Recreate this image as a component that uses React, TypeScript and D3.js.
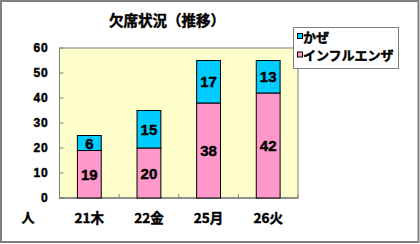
import React from "react";
import * as d3 from "d3";

const categories = ["21木", "22金", "25月", "26火"];
const kaze = [6, 15, 17, 13];
const influenza = [19, 20, 38, 42];
const yTicks = [0, 10, 20, 30, 40, 50, 60];
const seriesNames = ["かぜ", "インフルエンザ"];
const title = "欠席状況（推移）";
const unitLabel = "人";

const W = 420;
const H = 244;
const plot = { left: 59.5, right: 298, top: 48, bottom: 198 };
const CYAN = "#00CCFF";
const PINK = "#FF99CC";
const jp = "'Noto Sans CJK JP', 'Liberation Sans', sans-serif";
const num = "'Liberation Sans', Arial, sans-serif";
const heavy = { stroke: "#000", strokeWidth: 0.45 };

export default function App() {
  const x = d3
    .scaleBand<string>()
    .domain(categories)
    .range([plot.left, plot.right])
    .paddingInner(0.6)
    .paddingOuter(0.3);
  const y = d3.scaleLinear().domain([0, 60]).range([plot.bottom, plot.top]);
  const step = (plot.right - plot.left) / categories.length;
  const boundaries = d3.range(categories.length + 1).map((i) => plot.left + i * step);

  return (
    <svg
      width={W}
      height={H}
      style={{ position: "absolute", left: 0, top: 0 }}
      xmlns="http://www.w3.org/2000/svg"
    >
      <rect x={0} y={0} width={W} height={H} fill="#fff" />
      <rect x={1} y={1} width={417.5} height={241} fill="none" stroke="#808080" strokeWidth={2} />
      <text
        x={167}
        y={26}
        textAnchor="middle"
        fontFamily={jp}
        fontWeight="bold"
        fontSize={14.5}
        fill="#000"
        {...heavy}
      >
        {title}
      </text>
      {/* plot area */}
      <rect
        x={plot.left}
        y={plot.top}
        width={plot.right - plot.left}
        height={plot.bottom - plot.top}
        fill="#FFFFCC"
        stroke="#808080"
        strokeWidth={1}
      />
      {/* y ticks */}
      {yTicks.map((t) => (
        <g key={t}>
          <line x1={plot.left} x2={plot.left + 4} y1={y(t)} y2={y(t)} stroke="#808080" />
          <text
            x={48.5}
            y={y(t)}
            textAnchor="end"
            dominantBaseline="central"
            fontFamily={num}
            fontWeight="bold"
            fontSize={12}
            letterSpacing={0.8}
            fill="#000"
            {...heavy}
          >
            {t}
          </text>
        </g>
      ))}
      {/* x axis line & ticks */}
      <line x1={plot.left} x2={plot.right} y1={plot.bottom} y2={plot.bottom} stroke="#606060" />
      {boundaries.map((bx, i) => (
        <line key={i} x1={bx} x2={bx} y1={plot.bottom} y2={plot.bottom - 4} stroke="#808080" />
      ))}
      {/* bars */}
      {categories.map((c, i) => {
        const bx = x(c)!;
        const bw = x.bandwidth();
        const a = influenza[i];
        const b = kaze[i];
        return (
          <g key={c}>
            <rect
              x={bx}
              y={y(a)}
              width={bw}
              height={y(0) - y(a)}
              fill={PINK}
              stroke="#000"
              strokeWidth={1}
            />
            <rect
              x={bx}
              y={y(a + b)}
              width={bw}
              height={y(a) - y(a + b)}
              fill={CYAN}
              stroke="#000"
              strokeWidth={1}
            />
            <text
              x={bx + bw / 2}
              y={y(a / 2)}
              textAnchor="middle"
              dominantBaseline="central"
              fontFamily={num}
              fontWeight="bold"
              fontSize={15}
              fill="#000"
              {...heavy}
            >
              {a}
            </text>
            <text
              x={bx + bw / 2}
              y={y(a + b / 2)}
              textAnchor="middle"
              dominantBaseline="central"
              fontFamily={num}
              fontWeight="bold"
              fontSize={15}
              fill="#000"
              {...heavy}
            >
              {b}
            </text>
            <text
              x={bx + bw / 2}
              y={217}
              textAnchor="middle"
              dominantBaseline="central"
              fontFamily={jp}
              fontWeight="bold"
              fontSize={13.5}
              fill="#000"
              {...heavy}
            >
              {c}
            </text>
          </g>
        );
      })}
      <text
        x={28}
        y={216}
        textAnchor="middle"
        dominantBaseline="central"
        fontFamily={jp}
        fontWeight="bold"
        fontSize={13}
        fill="#000"
        {...heavy}
      >
        {unitLabel}
      </text>
      {/* legend */}
      <rect x={293.5} y={27.5} width={105} height={41} fill="#fff" stroke="#808080" strokeWidth={1} />
      {seriesNames.map((name, i) => {
        const cy = 36 + i * 18.5;
        return (
          <g key={name}>
            <rect
              x={297.5}
              y={cy - 2.5}
              width={5}
              height={5}
              fill={i === 0 ? CYAN : PINK}
              stroke="#000"
              strokeWidth={1}
            />
            <text
              x={303}
              y={cy}
              dominantBaseline="central"
              fontFamily={jp}
              fontWeight="bold"
              fontSize={13}
              fill="#000"
              {...heavy}
            >
              {name}
            </text>
          </g>
        );
      })}
    </svg>
  );
}
